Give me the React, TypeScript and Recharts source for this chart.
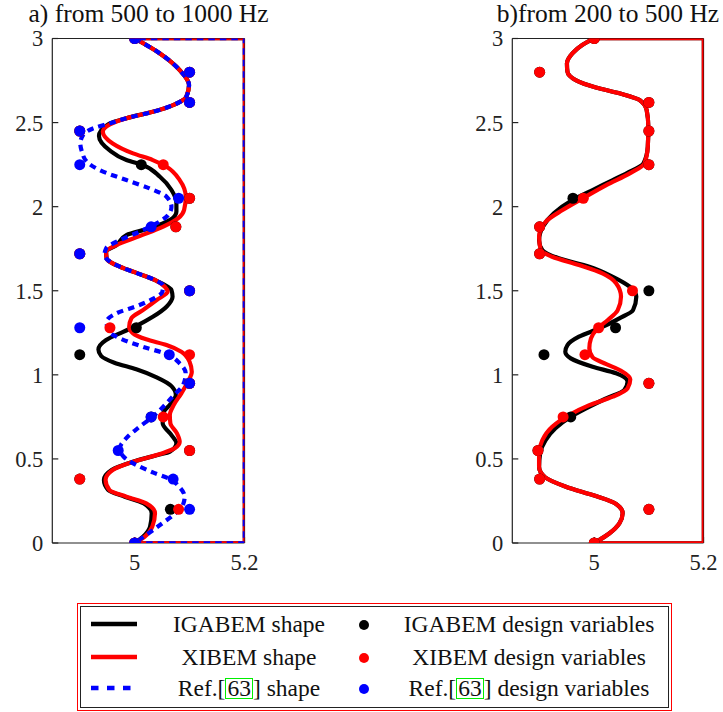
import React from 'react'
import { Scatter, ScatterChart, XAxis, YAxis } from 'recharts'

type Pt = [number, number] // [x, y]

const X_DOMAIN = [4.85, 5.2]
const Y_DOMAIN = [0, 3]
const X_TICKS = [5, 5.2]
const Y_TICKS = [0, 0.5, 1, 1.5, 2, 2.5, 3]

const TITLE_A = 'a) from 500 to 1000 Hz'
const TITLE_B = 'b)from 200 to 500 Hz'

// fixed part of the boundary: bottom, right side, top
const boundary: Pt[] = [[5, 0], [5.2, 0], [5.2, 3], [5, 3]]

// ---- panel a: 500 - 1000 Hz ----
const igabemShapeA: Pt[] = [
  [5.0, 3.0], [5.046, 2.911], [5.082, 2.812], [5.099, 2.723], [5.094, 2.653], [5.07, 2.604],
  [5.033, 2.564], [4.991, 2.531], [4.952, 2.49], [4.935, 2.42], [4.954, 2.336], [4.985, 2.277],
  [5.015, 2.247], [5.046, 2.178], [5.067, 2.099], [5.076, 2.02], [5.076, 1.97], [5.064, 1.92],
  [5.027, 1.871], [4.985, 1.831], [4.967, 1.772], [4.948, 1.732], [4.949, 1.693], [4.973, 1.643],
  [5.009, 1.599], [5.04, 1.559], [5.06, 1.524], [5.067, 1.504], [5.069, 1.464], [5.058, 1.405],
  [5.033, 1.345], [5.006, 1.296], [4.979, 1.256], [4.948, 1.207], [4.934, 1.151], [4.939, 1.112],
  [4.963, 1.072], [5.003, 1.033], [5.04, 0.985], [5.067, 0.933], [5.075, 0.88], [5.065, 0.826],
  [5.052, 0.771], [5.051, 0.712], [5.067, 0.642], [5.076, 0.593], [5.064, 0.543], [5.04, 0.522],
  [4.997, 0.483], [4.958, 0.434], [4.944, 0.375], [4.952, 0.315], [4.982, 0.275], [5.016, 0.236],
  [5.031, 0.177], [5.028, 0.097], [5.015, 0.037], [5.0, 0.0],
]
const xibemShapeA: Pt[] = [
  [5.0, 3.0], [5.046, 2.911], [5.082, 2.812], [5.099, 2.723], [5.094, 2.653], [5.07, 2.604],
  [5.033, 2.564], [4.991, 2.531], [4.955, 2.49], [4.942, 2.446], [4.96, 2.376], [4.997, 2.317],
  [5.033, 2.277], [5.058, 2.237], [5.082, 2.158], [5.093, 2.059], [5.09, 1.98], [5.079, 1.93],
  [5.052, 1.881], [5.009, 1.825], [4.967, 1.772], [4.948, 1.732], [4.949, 1.693], [4.973, 1.643],
  [5.009, 1.599], [5.04, 1.559], [5.055, 1.524], [5.06, 1.495], [5.04, 1.445], [5.015, 1.385],
  [4.994, 1.336], [4.99, 1.286], [4.997, 1.247], [5.021, 1.211], [5.058, 1.177], [5.085, 1.137],
  [5.1, 1.078], [5.104, 1.018], [5.097, 0.959], [5.085, 0.89], [5.071, 0.82], [5.064, 0.761],
  [5.065, 0.712], [5.077, 0.652], [5.082, 0.602], [5.073, 0.563], [5.046, 0.529], [4.997, 0.483],
  [4.96, 0.434], [4.947, 0.375], [4.954, 0.315], [4.985, 0.275], [5.021, 0.236], [5.037, 0.177],
  [5.032, 0.097], [5.018, 0.037], [5.0, 0.0],
]
const refShapeA: Pt[] = [
  [5.0, 3.0], [5.046, 2.911], [5.082, 2.812], [5.099, 2.723], [5.094, 2.653], [5.07, 2.604],
  [5.033, 2.564], [4.991, 2.531], [4.954, 2.495], [4.924, 2.465], [4.906, 2.426], [4.901, 2.376],
  [4.904, 2.326], [4.913, 2.267], [4.936, 2.218], [4.985, 2.158], [5.027, 2.109], [5.058, 2.059],
  [5.067, 1.999], [5.061, 1.95], [5.04, 1.901], [5.009, 1.851], [4.973, 1.801], [4.948, 1.752],
  [4.945, 1.712], [4.952, 1.68], [4.973, 1.643], [5.009, 1.599], [5.04, 1.559], [5.052, 1.53],
  [5.05, 1.49], [5.035, 1.455], [5.009, 1.415], [4.967, 1.366], [4.949, 1.316], [4.951, 1.266],
  [4.973, 1.217], [5.015, 1.167], [5.058, 1.124], [5.082, 1.068], [5.093, 1.009], [5.088, 0.939],
  [5.07, 0.874], [5.052, 0.81], [5.033, 0.751], [5.009, 0.691], [4.986, 0.628], [4.973, 0.563],
  [4.98, 0.513], [5.003, 0.464], [5.033, 0.42], [5.064, 0.38], [5.082, 0.331], [5.091, 0.275],
  [5.087, 0.22], [5.07, 0.166], [5.046, 0.107], [5.021, 0.048], [5.0, 0.0],
]
const igabemVarsA: Pt[] = [
  [5.0, 3.0], [5.1, 2.8], [5.1, 2.62], [4.9, 2.45], [5.012, 2.25], [5.1, 2.05], [5.075, 1.88],
  [4.9, 1.72], [5.1, 1.5], [5.003, 1.28], [4.9, 1.12], [5.1, 0.95], [5.03, 0.75], [5.1, 0.55],
  [4.9, 0.38], [5.065, 0.2], [5.0, 0.0],
]
const xibemVarsA: Pt[] = [
  [5.0, 3.0], [5.1, 2.8], [5.1, 2.62], [4.9, 2.45], [5.052, 2.25], [5.1, 2.05], [5.075, 1.88],
  [4.9, 1.72], [5.1, 1.5], [4.955, 1.28], [5.1, 1.12], [5.1, 0.95], [5.052, 0.75], [5.1, 0.55],
  [4.9, 0.38], [5.08, 0.2], [5.0, 0.0],
]
const refVarsA: Pt[] = [
  [5.0, 3.0], [5.1, 2.8], [5.1, 2.62], [4.9, 2.45], [4.9, 2.25], [5.08, 2.05], [5.03, 1.88],
  [4.9, 1.72], [5.1, 1.5], [4.9, 1.28], [5.063, 1.12], [5.1, 0.95], [5.03, 0.75], [4.97, 0.55],
  [5.07, 0.38], [5.1, 0.2], [5.0, 0.0],
]

// ---- panel b: 200 - 500 Hz ----
const igabemShapeB: Pt[] = [
  [5.0, 3.0], [4.978, 2.961], [4.96, 2.911], [4.95, 2.852], [4.951, 2.802], [4.966, 2.753],
  [5.003, 2.709], [5.046, 2.674], [5.083, 2.634], [5.096, 2.574], [5.099, 2.475], [5.098, 2.356],
  [5.09, 2.257], [5.06, 2.2], [5.034, 2.158], [4.997, 2.099], [4.96, 2.039], [4.926, 1.96],
  [4.906, 1.881], [4.899, 1.801], [4.905, 1.742], [4.935, 1.693], [4.991, 1.643], [5.034, 1.583],
  [5.065, 1.524], [5.077, 1.464], [5.071, 1.385], [5.046, 1.336], [5.009, 1.276], [4.972, 1.227],
  [4.951, 1.177], [4.947, 1.137], [4.957, 1.098], [4.997, 1.048], [5.04, 1.009], [5.061, 0.959],
  [5.055, 0.91], [5.022, 0.86], [4.985, 0.801], [4.957, 0.751], [4.929, 0.682], [4.911, 0.612],
  [4.901, 0.533], [4.899, 0.454], [4.91, 0.391], [4.948, 0.335], [5.003, 0.279], [5.04, 0.232],
  [5.052, 0.177], [5.046, 0.117], [5.028, 0.058], [5.0, 0.0],
]
const xibemShapeB: Pt[] = [
  [5.0, 3.0], [4.978, 2.961], [4.96, 2.911], [4.95, 2.852], [4.951, 2.802], [4.966, 2.753],
  [5.003, 2.709], [5.046, 2.674], [5.083, 2.634], [5.096, 2.574], [5.099, 2.475], [5.098, 2.356],
  [5.092, 2.257], [5.065, 2.198], [5.022, 2.128], [4.982, 2.055], [4.942, 1.98], [4.911, 1.91],
  [4.899, 1.821], [4.902, 1.742], [4.923, 1.702], [4.972, 1.653], [5.015, 1.603], [5.04, 1.544],
  [5.049, 1.464], [5.043, 1.385], [5.025, 1.326], [5.006, 1.276], [4.994, 1.217], [4.991, 1.158],
  [4.997, 1.104], [5.022, 1.064], [5.049, 1.024], [5.066, 0.973], [5.061, 0.92], [5.034, 0.87],
  [4.991, 0.82], [4.954, 0.761], [4.923, 0.691], [4.905, 0.612], [4.899, 0.533], [4.899, 0.454],
  [4.91, 0.391], [4.948, 0.335], [5.003, 0.279], [5.04, 0.232], [5.052, 0.177], [5.046, 0.117],
  [5.028, 0.058], [5.0, 0.0],
]
const igabemVarsB: Pt[] = [
  [5.0, 3.0], [4.9, 2.8], [5.1, 2.62], [5.1, 2.45], [5.1, 2.25], [4.961, 2.05], [4.9, 1.88],
  [4.9, 1.72], [5.1, 1.5], [5.039, 1.28], [4.908, 1.12], [5.1, 0.95], [4.957, 0.75], [4.897, 0.55],
  [4.9, 0.38], [5.1, 0.2], [5.0, 0.0],
]
const xibemVarsB: Pt[] = [
  [5.0, 3.0], [4.9, 2.8], [5.1, 2.62], [5.1, 2.45], [5.1, 2.25], [4.98, 2.05], [4.9, 1.88],
  [4.9, 1.72], [5.07, 1.5], [5.008, 1.28], [4.983, 1.12], [5.1, 0.95], [4.943, 0.75], [4.897, 0.55],
  [4.9, 0.38], [5.1, 0.2], [5.0, 0.0],
]

const BLACK = '#000000'
const RED = '#ff0000'
const BLUE = '#0000ff'
const AXIS = '#222222'
const FONT = '"Liberation Serif", "Times New Roman", serif'
const DASH = '6.5 5'

const rows = (pts: Pt[]) => pts.map(([x, y]) => ({ x, y }))
const noDot = () => <g />

// serif tick labels
const xTick = (p: any) => (
  <text x={p.x} y={p.y} dy="0.71em" textAnchor="middle" fill={AXIS} fontFamily="Liberation Serif" fontSize={22.5}
    style={{ fontFamily: FONT, fontSize: 22.5 }}>{String(p.payload.value)}</text>
)
const yTick = (p: any) => (
  <text x={p.x} y={p.y} dy="0.355em" textAnchor="end" fill={AXIS} fontFamily="Liberation Serif" fontSize={22.5}
    style={{ fontFamily: FONT, fontSize: 22.5 }}>{String(p.payload.value)}</text>
)

type CurveDef = { pts: Pt[]; color: string; dashed?: boolean }
type DotDef = { pts: Pt[]; color: string }

function Panel({ width, right, curves, dots }: { width: number; right: number; curves: CurveDef[]; dots: DotDef[] }) {
  const axisLine = { stroke: AXIS, strokeWidth: 1.2 }
  return (
    <ScatterChart width={width} height={600} margin={{ top: 28.5, right, bottom: 0, left: 0 }}
      style={{ fontFamily: FONT }}>
      <XAxis xAxisId="b" type="number" dataKey="x" domain={X_DOMAIN} ticks={X_TICKS} allowDataOverflow
        height={57} tickSize={-6} tickMargin={17} tick={xTick} axisLine={axisLine} tickLine={axisLine} />
      <XAxis xAxisId="t" orientation="top" type="number" domain={X_DOMAIN} ticks={X_TICKS} allowDataOverflow
        height={10} tickSize={-6} tick={false} axisLine={axisLine} tickLine={axisLine} />
      <YAxis yAxisId="l" type="number" dataKey="y" domain={Y_DOMAIN} ticks={Y_TICKS} allowDataOverflow
        width={52.3} tickSize={-6} tickMargin={15} tick={yTick} axisLine={axisLine} tickLine={axisLine} />
      <YAxis yAxisId="r" orientation="right" type="number" domain={Y_DOMAIN} ticks={Y_TICKS} allowDataOverflow
        width={10} tickSize={-6} tick={false} axisLine={axisLine} tickLine={axisLine} />
      {curves.flatMap((c, i) => [
        <Scatter key={`box${i}`} xAxisId="b" yAxisId="l" data={rows(boundary)} shape={noDot} isAnimationActive={false}
          lineJointType="linear"
          line={{ stroke: c.color, strokeWidth: 3.5, strokeDasharray: c.dashed ? DASH : undefined, fill: 'none' }} />,
        <Scatter key={`c${i}`} xAxisId="b" yAxisId="l" data={rows(c.pts)} shape={noDot} isAnimationActive={false}
          lineJointType="monotoneY"
          line={{ stroke: c.color, strokeWidth: 4.2, strokeDasharray: c.dashed ? DASH : undefined, fill: 'none', strokeLinejoin: 'round' }} />,
      ])}
      {dots.map((d, i) => (
        <Scatter key={`d${i}`} xAxisId="b" yAxisId="l" data={rows(d.pts)} isAnimationActive={false}
          shape={(p: any) => <circle cx={p.cx} cy={p.cy} r={5.5} fill={d.color} />} />
      ))}
    </ScatterChart>
  )
}

function LegendLine({ color, dashed }: { color: string; dashed?: boolean }) {
  return (
    <svg width={46} height={8} style={{ display: 'block' }}>
      <line x1={0} y1={4} x2={46} y2={4} stroke={color} strokeWidth={4.5} strokeDasharray={dashed ? '7.5 8.5' : undefined} />
    </svg>
  )
}

const Ref63 = () => (
  <>
    Ref.[<span style={{ border: '1px solid #00ee00', lineHeight: '19px', display: 'inline-block', padding: '0 1px' }}>63</span>]
  </>
)

const legendRows: { label: React.ReactNode; dotLabel: React.ReactNode; color: string; dashed?: boolean }[] = [
  { label: 'IGABEM shape', dotLabel: 'IGABEM design variables', color: BLACK },
  { label: 'XIBEM shape', dotLabel: 'XIBEM design variables', color: RED },
  { label: <><Ref63 /> shape</>, dotLabel: <><Ref63 /> design variables</>, color: BLUE, dashed: true },
]
const ROW_Y = [21.3, 53.7, 84.7]

export default function App() {
  const titleStyle: React.CSSProperties = {
    position: 'absolute', width: 200, top: 1, fontSize: 25.5, lineHeight: '26px',
    whiteSpace: 'nowrap', display: 'flex', justifyContent: 'center',
  }
  return (
    <div style={{ position: 'absolute', left: 0, top: 0, width: 723, height: 712, background: '#fff', fontFamily: FONT, color: '#111', overflow: 'hidden' }}>
      <div style={{ ...titleStyle, left: 48.5 }}><span>{TITLE_A}</span></div>
      <div style={{ ...titleStyle, left: 508 }}><span>{TITLE_B}</span></div>
      <div style={{ position: 'absolute', left: 0, top: 0 }}>
        <Panel width={280} right={25.5}
          curves={[{ pts: igabemShapeA, color: BLACK }, { pts: xibemShapeA, color: RED }, { pts: refShapeA, color: BLUE, dashed: true }]}
          dots={[{ pts: igabemVarsA, color: BLACK }, { pts: xibemVarsA, color: RED }, { pts: refVarsA, color: BLUE }]} />
      </div>
      <div style={{ position: 'absolute', left: 460, top: 0 }}>
        <Panel width={263} right={9.5}
          curves={[{ pts: igabemShapeB, color: BLACK }, { pts: xibemShapeB, color: RED }]}
          dots={[{ pts: igabemVarsB, color: BLACK }, { pts: xibemVarsB, color: RED }]} />
      </div>
      <div style={{ position: 'absolute', left: 77, top: 603, width: 595, height: 108, boxSizing: 'border-box', border: '1px solid #ff0000', padding: 2 }}>
        <div style={{ width: '100%', height: '100%', boxSizing: 'border-box', border: '1.5px solid #222' }} />
        {legendRows.map((r, i) => (
          <React.Fragment key={i}>
            <div style={{ position: 'absolute', left: 13, top: ROW_Y[i] - 5 }}>
              <LegendLine color={r.color} dashed={r.dashed} />
            </div>
            <div style={{ position: 'absolute', left: 51, width: 240, top: ROW_Y[i] - 14, fontSize: 23.5, lineHeight: '26px', textAlign: 'center', whiteSpace: 'nowrap' }}>
              {r.label}
            </div>
            <svg style={{ position: 'absolute', left: 279, top: ROW_Y[i] - 7 }} width={14} height={14}>
              <circle cx={7} cy={7} r={5} fill={r.color} />
            </svg>
            <div style={{ position: 'absolute', left: 291, width: 320, top: ROW_Y[i] - 14, fontSize: 23.5, lineHeight: '26px', textAlign: 'center', whiteSpace: 'nowrap' }}>
              {r.dotLabel}
            </div>
          </React.Fragment>
        ))}
      </div>
    </div>
  )
}
